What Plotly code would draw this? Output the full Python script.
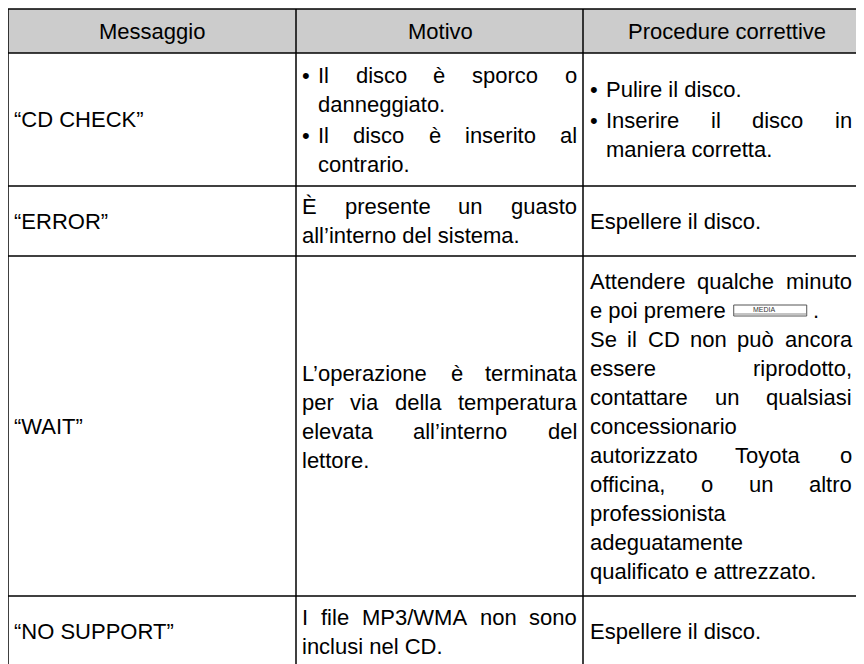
import plotly.graph_objects as go

# ---------------- data ----------------
headers = ["Messaggio", "Motivo", "Procedure correttive"]
messages = ["“CD CHECK”", "“ERROR”", "“WAIT”", "“NO SUPPORT”"]
reasons = [
    [("•", ["Il disco è sporco o", "danneggiato."]),
     ("•", ["Il disco è inserito al", "contrario."])],
    [("", ["È presente un guasto", "all’interno del sistema."])],
    [("", ["L’operazione è terminata", "per via della temperatura",
           "elevata all’interno del", "lettore."])],
    [("", ["I file MP3/WMA non sono", "inclusi nel CD."])],
]
remedies = [
    [("•", ["Pulire il disco."]),
     ("•", ["Inserire il disco in", "maniera corretta."])],
    [("", ["Espellere il disco."])],
    [("", ["Attendere qualche minuto", "e poi premere {BTN} .",
           "Se il CD non può ancora", "essere riprodotto,",
           "contattare un qualsiasi", "concessionario",
           "autorizzato Toyota o", "officina, o un altro",
           "professionista", "adeguatamente",
           "qualificato e attrezzato."])],
    [("", ["Espellere il disco."])],
]
button_label = "MEDIA"

# ---------------- geometry / style ----------------
BODY = 8                      # default page margin of the html body
W, H = 864, 664
col_edges = [8, 296, 583, 872]
text_left = [14, 302, 590]
text_right = [290, 577, 852]
row_edges = [9, 53, 186, 256, 596, 667]
reason_shift = [0, 0, -9, 0]
FONT = 22
LINE = 29
PARA_GAP = 2
FAMILY = "Liberation Sans, Arial, sans-serif"
HEADER_FILL = "#cccccc"
BULLET_INDENT = 16

ARIAL = {' ': 278, '!': 278, '"': 355, '#': 556, '$': 556, '%': 889, '&': 667, "'": 191,
         '(': 333, ')': 333, '*': 389, '+': 584, ',': 278, '-': 333, '.': 278, '/': 278,
         ':': 278, ';': 278, '?': 556, '@': 1015,
         'A': 667, 'B': 667, 'C': 722, 'D': 722, 'E': 667, 'F': 611, 'G': 778, 'H': 722,
         'I': 278, 'J': 500, 'K': 667, 'L': 556, 'M': 833, 'N': 722, 'O': 778, 'P': 667,
         'Q': 778, 'R': 722, 'S': 667, 'T': 611, 'U': 722, 'V': 667, 'W': 944, 'X': 667,
         'Y': 667, 'Z': 611,
         'a': 556, 'b': 556, 'c': 500, 'd': 556, 'e': 556, 'f': 278, 'g': 556, 'h': 556,
         'i': 222, 'j': 222, 'k': 500, 'l': 222, 'm': 833, 'n': 556, 'o': 556, 'p': 556,
         'q': 556, 'r': 333, 's': 500, 't': 278, 'u': 556, 'v': 500, 'w': 722, 'x': 500,
         'y': 500, 'z': 500, 'è': 556, 'È': 667, 'ù': 556, 'ò': 556, '’': 222, '“': 333,
         '”': 333, '•': 350}
for d in "0123456789":
    ARIAL[d] = 556


def tw(s, size=FONT):
    return sum(ARIAL.get(c, 556) for c in s) * size / 1000.0


annotations = []
shapes = []


def text(x, y, s, anchor="left", size=FONT, color="#000000"):
    annotations.append(dict(x=x, y=y, xref="x", yref="y", text=s, showarrow=False,
                            xanchor=anchor, yanchor="middle", borderpad=0, borderwidth=0,
                            font=dict(family=FAMILY, size=size, color=color)))


def draw_line(x, y, line, justify, right):
    if "{BTN}" in line:
        before, after = line.split("{BTN}")
        before = before.rstrip()
        text(x, y, before)
        bx0 = x + tw(before) + 8
        bx1 = bx0 + 73
        shapes.append(dict(type="rect", xref="x", yref="y", x0=bx0, x1=bx1,
                           y0=y - 5, y1=y + 6, line=dict(color="#555555", width=1),
                           fillcolor="#ffffff", layer="above"))
        shapes.append(dict(type="line", xref="x", yref="y", x0=bx0, x1=bx1,
                           y0=y + 4, y1=y + 4, line=dict(color="#888888", width=1),
                           layer="above"))
        text((bx0 + bx1) / 2 - 6, y - 0.5, button_label, anchor="center", size=7,
             color="#333333")
        text(bx1 + 6, y, after.strip())
        return
    words = line.split(" ")
    if not justify or len(words) < 2:
        text(x, y, line)
        return
    total = sum(tw(w) for w in words)
    gap = (right - x - total) / (len(words) - 1)
    cx = x
    for w in words:
        text(cx, y, w)
        cx += tw(w) + gap


def draw_cell(col, row, paras, shift=0):
    x_left = text_left[col]
    x_right = text_right[col]
    y0, y1 = row_edges[row + 1], row_edges[row + 2]
    n_lines = sum(len(p[1]) for p in paras)
    total_h = n_lines * LINE + (len(paras) - 1) * PARA_GAP
    y = (y0 + y1) / 2 - total_h / 2 + LINE / 2 + shift
    for bullet, lines in paras:
        tx = x_left
        if bullet:
            text(x_left, y, bullet)
            tx = x_left + BULLET_INDENT
        for i, ln in enumerate(lines):
            draw_line(tx, y, ln, i < len(lines) - 1, x_right)
            y += LINE
        y += PARA_GAP


# header background
shapes.append(dict(type="rect", xref="x", yref="y", x0=col_edges[0], x1=col_edges[-1],
                   y0=row_edges[0], y1=row_edges[1], fillcolor=HEADER_FILL,
                   line=dict(width=0), layer="below"))
header_centers = [152, 440, 727]
for i, h in enumerate(headers):
    text(header_centers[i], (row_edges[0] + row_edges[1]) / 2 + 0.5, h, anchor="center")

for r, m in enumerate(messages):
    cy = (row_edges[r + 1] + row_edges[r + 2]) / 2
    text(text_left[0], cy, m)
    draw_cell(1, r, reasons[r], reason_shift[r])
    draw_cell(2, r, remedies[r])

# grid lines
for y in row_edges:
    shapes.append(dict(type="line", xref="x", yref="y", x0=col_edges[0], x1=col_edges[-1],
                       y0=y, y1=y, line=dict(color="#000000", width=1.5)))
for x in col_edges:
    shapes.append(dict(type="line", xref="x", yref="y", x0=x, x1=x,
                       y0=row_edges[0], y1=row_edges[-1],
                       line=dict(color="#000000", width=1.5)))

fig = go.Figure()
fig.update_layout(
    width=W, height=H, margin=dict(l=0, r=0, t=0, b=0),
    paper_bgcolor="#ffffff", plot_bgcolor="#ffffff",
    xaxis=dict(range=[BODY, W + BODY], visible=False, fixedrange=True),
    yaxis=dict(range=[H + BODY, BODY], visible=False, fixedrange=True),
    shapes=shapes, annotations=annotations, showlegend=False,
)
fig.write_html("out.html")
